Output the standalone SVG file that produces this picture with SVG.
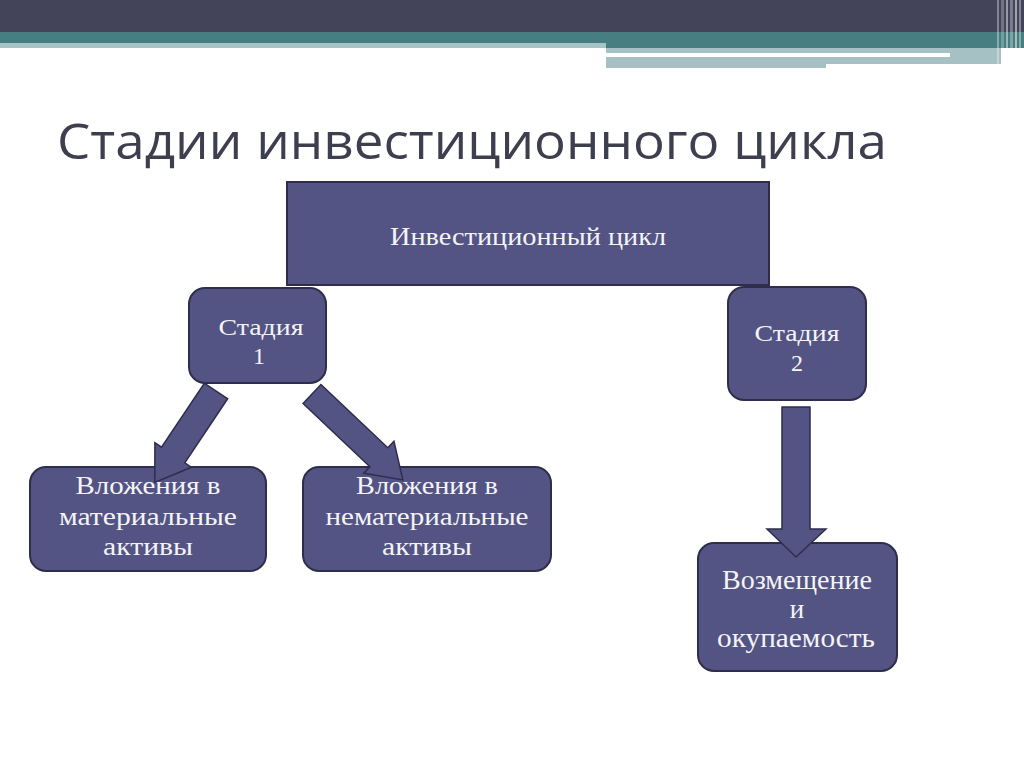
<svg xmlns="http://www.w3.org/2000/svg" width="1024" height="767" viewBox="0 0 1024 767">
<defs>
<style>
.box{fill:#535384;stroke:#2e2e4c;stroke-width:2}
.arrow{fill:#535384;stroke:#2e2e4c;stroke-width:1.5;stroke-linejoin:miter}
.t{font-family:"Liberation Serif","Times New Roman",serif;fill:#f4f4f6;text-anchor:middle}
</style>
</defs>
<rect x="0" y="0" width="1024" height="767" fill="#ffffff"/>
<g id="header">
<rect x="0" y="0" width="1024" height="33" fill="#43445a"/>
<rect x="0" y="32" width="1024" height="16" fill="#467e81"/>
<rect x="0" y="43" width="606" height="5" fill="#a8c3c5"/>
<rect x="606" y="48" width="395" height="16" fill="#a6c1c3"/>
<rect x="606" y="53" width="344" height="4" fill="#ffffff"/>
<rect x="606" y="64" width="220" height="4" fill="#a6c1c3"/>
<g fill="#ffffff">
<rect x="997" y="0" width="2" height="66" opacity="0.35"/>
<rect x="1001" y="0" width="3" height="68" opacity="0.25"/>
<rect x="1006" y="0" width="2" height="68" opacity="0.45"/>
<rect x="1010" y="0" width="3" height="68" opacity="0.3"/>
<rect x="1015" y="0" width="2" height="66" opacity="0.5"/>
<rect x="1019" y="0" width="2" height="66" opacity="0.35"/>
</g>
</g>
<text id="title" x="57" y="159" font-family="'Open Sans','DejaVu Sans',sans-serif" font-size="49" fill="#3d3f4f" textLength="830" lengthAdjust="spacingAndGlyphs">Стадии инвестиционного цикла</text>
<g id="node-cycle">
<rect class="box" x="287" y="182" width="482" height="103"/>
<text class="t" x="528" y="245" font-size="25" textLength="276" lengthAdjust="spacingAndGlyphs">Инвестиционный цикл</text>
</g>
<g id="node-stage1">
<rect class="box" x="189" y="288" width="137" height="95" rx="16"/>
<text class="t" x="261" y="335" font-size="24" textLength="85" lengthAdjust="spacingAndGlyphs">Стадия</text>
<text class="t" x="259" y="364" font-size="24">1</text>
</g>
<g id="node-stage2">
<rect class="box" x="728" y="287" width="138" height="113" rx="16"/>
<text class="t" x="797" y="341" font-size="24" textLength="85" lengthAdjust="spacingAndGlyphs">Стадия</text>
<text class="t" x="797" y="371" font-size="24">2</text>
</g>
<g id="node-material">
<rect class="box" x="30" y="467" width="236" height="104" rx="16"/>
<text class="t" x="148" y="494" font-size="26" textLength="145" lengthAdjust="spacingAndGlyphs">Вложения в</text>
<text class="t" x="148" y="525" font-size="26" textLength="178" lengthAdjust="spacingAndGlyphs">материальные</text>
<text class="t" x="148" y="555" font-size="26" textLength="90" lengthAdjust="spacingAndGlyphs">активы</text>
</g>
<g id="node-nonmaterial">
<rect class="box" x="303" y="467" width="248" height="104" rx="16"/>
<text class="t" x="427" y="494" font-size="26" textLength="142" lengthAdjust="spacingAndGlyphs">Вложения в</text>
<text class="t" x="427" y="525" font-size="26" textLength="203" lengthAdjust="spacingAndGlyphs">нематериальные</text>
<text class="t" x="427" y="555" font-size="26" textLength="90" lengthAdjust="spacingAndGlyphs">активы</text>
</g>
<g id="node-payback">
<rect class="box" x="698" y="543" width="199" height="128" rx="16"/>
<text class="t" x="797" y="589" font-size="27" textLength="150" lengthAdjust="spacingAndGlyphs">Возмещение</text>
<text class="t" x="797" y="618" font-size="27">и</text>
<text class="t" x="796" y="647" font-size="27" textLength="158" lengthAdjust="spacingAndGlyphs">окупаемость</text>
</g>
<g id="connectors">
<polygon class="arrow" transform="translate(216,391) rotate(123.8)" points="0,-14 77,-14 77,-22 110,0 77,22 77,14 0,14"/>
<polygon class="arrow" transform="translate(312,394) rotate(43.4)" points="0,-13 92,-13 92,-22 125,0 92,22 92,13 0,13"/>
<polygon class="arrow" points="782,407 810,407 810,529 826,529 796,557 767,529 782,529"/>
</g>
</svg>
